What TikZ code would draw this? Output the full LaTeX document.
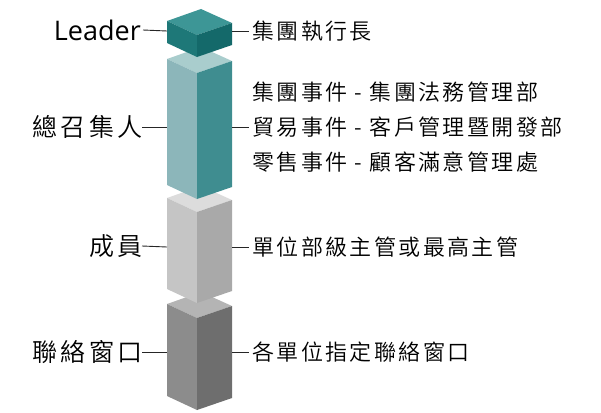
\documentclass[tikz,border=0pt]{standalone}
\usepackage{fontspec}
\newfontfamily\cjkL[LetterSpace=14]{Noto Sans CJK TC DemiLight}
\newfontfamily\cjkR[LetterSpace=11]{Noto Sans CJK TC DemiLight}
\newfontfamily\latinf{Open Sans}
\definecolor{tA}{HTML}{3D9696}
\definecolor{lA}{HTML}{1E7878}
\definecolor{rA}{HTML}{14696A}
\definecolor{tB}{HTML}{A9CDCD}
\definecolor{lB}{HTML}{8CB6BA}
\definecolor{rB}{HTML}{3F8D90}
\definecolor{tC}{HTML}{DCDCDC}
\definecolor{lC}{HTML}{C5C5C5}
\definecolor{rC}{HTML}{A9A9A9}
\definecolor{tD}{HTML}{B4B4B4}
\definecolor{lD}{HTML}{8C8C8C}
\definecolor{rD}{HTML}{6E6E6E}
\newcommand\drawblock[5]{%
  \fill[#3] (197,#1) -- (167,{#1-14}) -- (201,{#1-26}) -- (232,{#1-12}) -- cycle;
  \fill[#4] (197,#1) -- (167,{#1-14}) -- (167,{#1+#2-14}) -- (197,{#1+#2}) -- cycle;
  \fill[#5] (197,#1) -- (232,{#1-12}) -- (232,{#1+#2-12}) -- (197,{#1+#2}) -- cycle;
}
\begin{document}
\begin{tikzpicture}[x=1pt,y=-1pt,
  leftlab/.style={anchor=east,inner sep=0pt,font=\cjkL\fontsize{25}{28}\selectfont},
  rightlab/.style={anchor=west,inner sep=0pt,font=\cjkR\fontsize{22}{26}\selectfont},
  conn/.style={draw=black!85,line width=0.9pt}]
\useasboundingbox (0,0) rectangle (601,412);
% blocks, bottom first
\drawblock{318}{92}{tD}{lD}{rD}
\drawblock{212}{91}{tC}{lC}{rC}
\drawblock{73}{126}{tB}{lB}{rB}
\drawblock{35}{22}{tA}{lA}{rA}
% attach points
\coordinate (a1l) at (167,31);
\coordinate (a1r) at (232,31);
\coordinate (a2l) at (167,127);
\coordinate (a2r) at (232,127);
\coordinate (a3l) at (167,247);
\coordinate (a3r) at (232,247);
\coordinate (a4l) at (167,352);
\coordinate (a4r) at (232,352);
% left labels
\node[anchor=east,inner sep=0pt,font=\latinf\fontsize{27}{30}\selectfont] (lab1) at (141,30) {Leader};
\node[leftlab] (lab2) at (143,127) {總召集人};
\node[leftlab] (lab3) at (143,246) {成員};
\node[leftlab] (lab4) at (143,352) {聯絡窗口};
% right texts
\node[rightlab] (txt1) at (252,31) {集團執行長};
\node[rightlab] (txt2a) at (252,92) {集團事件 - 集團法務管理部};
\node[rightlab] (txt2b) at (252,127) {貿易事件 - 客戶管理暨開發部};
\node[rightlab] (txt2c) at (252,162) {零售事件 - 顧客滿意管理處};
\node[rightlab] (txt3) at (252,247) {單位部級主管或最高主管};
\node[rightlab] (txt4) at (252,352) {各單位指定聯絡窗口};
% connectors
\draw[conn] ([xshift=2pt]lab1.east) -- (a1l);
\draw[conn] (a1r) -- ([xshift=-3pt]txt1.west);
\draw[conn] ([xshift=-1pt]lab2.east) -- (a2l);
\draw[conn] (a2r) -- ([xshift=-3pt]txt2b.west);
\draw[conn] ([xshift=-1pt]lab3.east) -- (a3l);
\draw[conn] (a3r) -- ([xshift=-3pt]txt3.west);
\draw[conn] ([xshift=-1pt]lab4.east) -- (a4l);
\draw[conn] (a4r) -- ([xshift=-3pt]txt4.west);
\end{tikzpicture}
\end{document}
